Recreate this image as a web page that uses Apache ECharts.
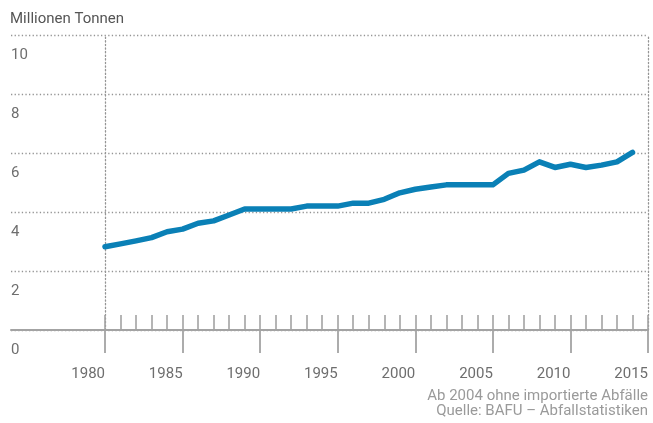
<!DOCTYPE html>
<html><head><meta charset="utf-8">
<script src="https://cdn.jsdelivr.net/npm/echarts@6/dist/echarts.min.js"></script>
<style>html,body{margin:0;padding:0;background:#fff}#c{width:653px;height:423px}</style>
</head><body><div id="c"></div>
<script>
const years = [1980,1981,1982,1983,1984,1985,1986,1987,1988,1989,1990,1991,1992,1993,1994,1995,1996,1997,1998,1999,2000,2001,2002,2003,2004,2005,2006,2007,2008,2009,2010,2011,2012,2013,2014];
const values = [2.82,2.92,3.02,3.13,3.33,3.42,3.62,3.70,3.90,4.10,4.10,4.10,4.10,4.20,4.20,4.20,4.30,4.30,4.43,4.65,4.77,4.85,4.92,4.92,4.92,4.92,5.31,5.42,5.70,5.51,5.62,5.51,5.59,5.70,6.02];
const yTicks = [0,2,4,6,8,10];
const xLabelYears = [1980,1985,1990,1995,2000,2005,2010,2015];
const unitLabel = 'Millionen Tonnen';
const note1 = 'Ab 2004 ohne importierte Abfälle';
const note2 = 'Quelle: BAFU – Abfallstatistiken';

const FONT = 'Roboto';
const GRAY = '#a3a3a3';
const dotted = {color:'#959595', width:1.3, type:[1.3,2.3]};
const chart = echarts.init(document.getElementById('c'), null, {renderer:'canvas'});
const TOP = 35, BOTTOM = 93, RIGHT = 5;
chart.setOption({
  animation:false,
  backgroundColor:'#fff',
  textStyle:{fontFamily:FONT},
  graphic:[
    {type:'text', left:10, top:12, style:{text:unitLabel, font:'15px '+FONT, fill:'#555555'}},
    {type:'text', right:5, top:389, style:{text:note1, font:'15px '+FONT, fill:'#9a9a9a', textAlign:'right'}},
    {type:'text', right:5, top:404, style:{text:note2, font:'15px '+FONT, fill:'#9a9a9a', textAlign:'right'}}
  ],
  grid:[
    {left:11, right:RIGHT, top:TOP, bottom:BOTTOM, containLabel:false, outerBoundsMode:'none'},
    {left:105, right:RIGHT, top:TOP, bottom:BOTTOM, containLabel:false, outerBoundsMode:'none'}
  ],
  xAxis:[
    {gridIndex:0, type:'value', position:'bottom', min:0, max:1, axisLine:{show:true, lineStyle:{color:GRAY, width:2}}, axisTick:{show:false}, axisLabel:{show:false}, splitLine:{show:false}},
    {gridIndex:1, type:'value', position:'bottom', offset:0, min:1980, max:2015, interval:1, axisLine:{show:false},
      axisTick:{show:true, inside:true, length:15, lineStyle:{color:GRAY, width:1.6}}, axisLabel:{show:false}, splitLine:{show:false}},
    {gridIndex:1, type:'value', position:'bottom', offset:0, min:1980, max:2015, interval:5, axisLine:{show:false},
      axisTick:{show:true, inside:false, length:23, lineStyle:{color:GRAY, width:1.8}},
      axisLabel:{show:true, align:'right', margin:37, fontSize:15, color:'#6e6e6e', fontFamily:FONT,
        formatter:v => xLabelYears.includes(v) ? String(v) : ''},
      splitLine:{show:false}}
  ],
  yAxis:[
    {gridIndex:0, type:'value', min:yTicks[0], max:yTicks[yTicks.length-1], interval:2,
      axisLine:{show:false}, axisTick:{show:false},
      axisLabel:{show:true, inside:true, margin:0, align:'left', verticalAlign:'top', padding:[13,0,0,0], fontSize:15, color:'#6e6e6e', fontFamily:FONT},
      splitLine:{show:true, lineStyle:dotted}},
    {gridIndex:1, type:'value', min:0, max:10, interval:2, position:'left',
      axisLine:{show:true, lineStyle:dotted}, axisTick:{show:false}, axisLabel:{show:false}, splitLine:{show:false}},
    {gridIndex:1, type:'value', min:0, max:10, interval:2, position:'right',
      axisLine:{show:true, lineStyle:dotted}, axisTick:{show:false}, axisLabel:{show:false}, splitLine:{show:false}}
  ],
  series:[{
    type:'line', xAxisIndex:1, yAxisIndex:1,
    data: years.map((y,i)=>[y, values[i]]),
    showSymbol:false, symbol:'none',
    lineStyle:{color:'#0a80b6', width:5.5, cap:'round', join:'round'},
    z:5
  }]
});
</script></body></html>
